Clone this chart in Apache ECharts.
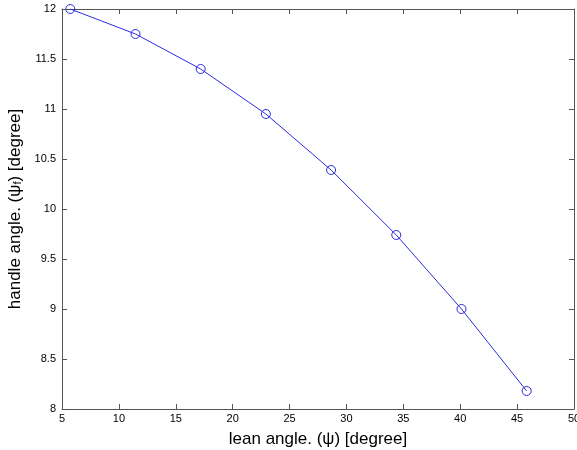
<!DOCTYPE html>
<html><head><meta charset="utf-8">
<script src="https://cdn.jsdelivr.net/npm/echarts@6/dist/echarts.min.js"></script>
<style>html,body{margin:0;padding:0;background:#fff}#c{width:577px;height:450px}</style>
</head><body><div id="c"></div>
<script>
const leanAngle = [5.73, 11.46, 17.19, 22.92, 28.65, 34.38, 40.11, 45.84];
const handleAngle = [12.0, 11.75, 11.4, 10.95, 10.39, 9.74, 9.0, 8.18];
const xTicks = [5, 10, 15, 20, 25, 30, 35, 40, 45, 50];
const yTicks = [8, 8.5, 9, 9.5, 10, 10.5, 11, 11.5, 12];

const FONT = '"Liberation Sans", Arial, Helvetica, sans-serif';
const axisColor = '#555';
const chart = echarts.init(document.getElementById('c'));
const common = {
  axisLine: {show: true, lineStyle: {color: axisColor, width: 1}},
  axisTick: {show: true, inside: true, length: 5, lineStyle: {color: axisColor}},
  splitLine: {show: false}
};
chart.setOption({
  animation: false,
  grid: {left: 62, right: 3, top: 9, bottom: 41, containLabel: false, outerBoundsMode: 'none'},
  xAxis: [
    Object.assign({
      type: 'value', min: xTicks[0], max: xTicks[xTicks.length - 1], interval: 5, position: 'bottom',
      axisLabel: {color: '#000', fontSize: 11, fontFamily: FONT, margin: 4},
      name: 'lean angle. (ψ) [degree]', nameLocation: 'middle', nameGap: 22,
      nameTextStyle: {color: '#000', fontSize: 17, fontFamily: FONT}
    }, common),
    Object.assign({
      type: 'value', min: xTicks[0], max: xTicks[xTicks.length - 1], interval: 5, position: 'top',
      axisLabel: {show: false}
    }, common)
  ],
  yAxis: [
    Object.assign({
      type: 'value', min: yTicks[0], max: yTicks[yTicks.length - 1], interval: 0.5, position: 'left',
      axisLabel: {color: '#000', fontSize: 11, fontFamily: FONT, margin: 6},
      name: '{a|handle angle. (ψ}{s|f}{a|) [degree]}', nameLocation: 'middle', nameGap: 36, nameRotate: 90,
      nameTextStyle: {
        rich: {
          a: {color: '#000', fontSize: 17, fontFamily: FONT},
          s: {color: '#000', fontSize: 11, fontFamily: FONT, verticalAlign: 'bottom', padding: [6, 0, 0, 0]}
        }
      }
    }, common),
    Object.assign({
      type: 'value', min: yTicks[0], max: yTicks[yTicks.length - 1], interval: 0.5, position: 'right',
      axisLabel: {show: false}
    }, common)
  ],
  series: [{
    type: 'line',
    data: leanAngle.map((x, i) => [x, handleAngle[i]]),
    symbol: 'circle', symbolSize: 9,
    lineStyle: {color: '#2b2bdb', width: 1},
    itemStyle: {color: 'rgba(255,255,255,0)', borderColor: '#2b2bdb', borderWidth: 1},
    clip: false
  }]
});
</script></body></html>
